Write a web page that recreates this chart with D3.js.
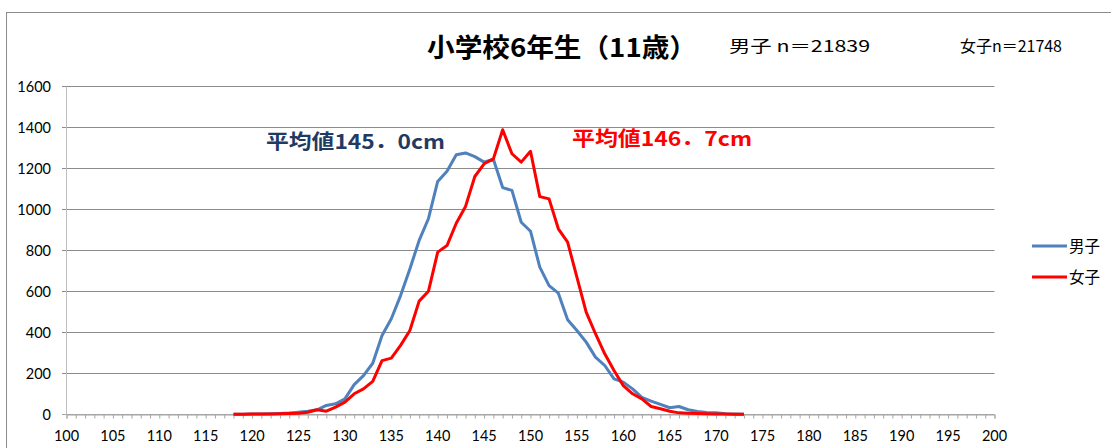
<!DOCTYPE html>
<html>
<head>
<meta charset="utf-8">
<script src="https://cdn.jsdelivr.net/npm/d3@7"></script>
<style>
  body { margin: 0; background: #fff; }
  svg { display: block; }
</style>
</head>
<body>
<div id="chart"></div>
<script>
// heights in cm (one category per cm)
const heights = d3.range(118, 174);
const boys = [1, 1, 2, 3, 4, 5, 7, 11, 16, 23, 44, 52, 76, 146, 190, 250, 385, 467, 580, 710,
  849, 955, 1137, 1187, 1267, 1276, 1258, 1231, 1245, 1107, 1093, 938, 894, 719, 629, 592,
  462, 410, 353, 280, 239, 174, 158, 125, 84, 65, 49, 33, 39, 23, 15, 10, 8, 4, 2, 1];
const girls = [1, 1, 2, 2, 3, 4, 5, 6, 11, 23, 16, 36, 60, 101, 125, 162, 263, 275, 337, 410,
  553, 601, 792, 824, 933, 1015, 1161, 1223, 1247, 1389, 1272, 1231, 1284, 1063, 1052, 906,
  841, 670, 499, 394, 296, 215, 141, 101, 76, 39, 28, 16, 8, 6, 5, 4, 3, 2, 1, 1];
const xTicks = d3.range(100, 201, 5);
const yTicks = [0, 200, 400, 600, 800, 1000, 1200, 1400, 1600];
const seriesNames = ["男子", "女子"];
const seriesColors = ["#4f81bd", "#ff0000"];

const W = 1111, H = 448;
const svg = d3.select("#chart").append("svg")
    .attr("width", W)
    .attr("height", H);

// outer chart border
svg.append("rect")
    .attr("x", 6.5).attr("y", 12.5)
    .attr("width", W + 10).attr("height", H + 10)
    .attr("fill", "none")
    .attr("stroke", "#8c8c8c");

const x = d3.scaleLinear().domain([100, 200]).range([66.5, 994.5]);
const y = d3.scaleLinear().domain([0, 1600]).range([414.5, 86.5]);

// gridlines
svg.append("g")
    .selectAll("line")
    .data(yTicks)
    .enter()
    .append("line")
    .attr("x1", 62).attr("x2", x(200))
    .attr("y1", d => y(d)).attr("y2", d => y(d))
    .attr("stroke", d => d === 0 ? "#a6a6a6" : "#8c8c8c")
    .attr("stroke-width", 1);

// y labels
svg.append("g")
    .selectAll("text")
    .data(yTicks)
    .enter()
    .append("text")
    .attr("x", 51)
    .attr("y", d => y(d) + 5)
    .attr("text-anchor", "end")
    .attr("font-family", "Lato, 'Open Sans', sans-serif")
    .attr("font-size", 14.5)
    .attr("fill", "#000")
    .text(d => d);

// left axis line
svg.append("line")
    .attr("x1", x(100)).attr("x2", x(100))
    .attr("y1", y(1600)).attr("y2", y(0))
    .attr("stroke", "#bfbfbf");

// x axis: minor tick per cm, labels every 5
const xAxis = d3.axisBottom(x)
    .tickValues(d3.range(100, 201))
    .tickSize(4)
    .tickFormat("");
const gx = svg.append("g")
    .attr("transform", "translate(0," + y(0) + ")")
    .call(xAxis);
gx.select(".domain").attr("stroke", "#a6a6a6");
gx.selectAll(".tick line").attr("stroke", "#a6a6a6");

svg.append("g")
    .selectAll("text")
    .data(xTicks)
    .enter()
    .append("text")
    .attr("x", d => x(d))
    .attr("y", 441)
    .attr("text-anchor", "middle")
    .attr("font-family", "Lato, 'Open Sans', sans-serif")
    .attr("font-size", 14.5)
    .attr("fill", "#000")
    .text(d => d);

// lines
const line = d3.line()
    .x(d => x(d[0]))
    .y(d => y(d[1]));

[boys, girls].forEach((vals, i) => {
    svg.append("path")
        .datum(heights.map((h, j) => [h, vals[j]]))
        .attr("d", line)
        .attr("fill", "none")
        .attr("stroke", seriesColors[i])
        .attr("stroke-width", 3)
        .attr("stroke-linejoin", "round");
});

// title
svg.append("text")
    .attr("x", 427)
    .attr("y", 57)
    .attr("font-family", "'Noto Sans CJK JP', sans-serif")
    .attr("font-weight", "bold")
    .attr("font-size", 26)
    .attr("textLength", 270)
    .attr("lengthAdjust", "spacingAndGlyphs")
    .text("小学校6年生（11歳）");

svg.append("text")
    .attr("x", 729)
    .attr("y", 52)
    .attr("font-family", "'Noto Sans CJK JP', sans-serif")
    .attr("font-size", 16)
    .attr("textLength", 141)
    .attr("lengthAdjust", "spacingAndGlyphs")
    .text("男子 n＝21839");

svg.append("text")
    .attr("x", 960)
    .attr("y", 52)
    .attr("font-family", "'Noto Sans CJK JP', sans-serif")
    .attr("font-size", 16)
    .attr("textLength", 102)
    .attr("lengthAdjust", "spacingAndGlyphs")
    .text("女子n＝21748");

// mean annotations
svg.append("text")
    .attr("x", 266)
    .attr("y", 149)
    .attr("font-family", "'Noto Sans CJK JP', sans-serif")
    .attr("font-weight", "bold")
    .attr("font-size", 20)
    .attr("fill", "#1f3b64")
    .attr("textLength", 179)
    .attr("lengthAdjust", "spacingAndGlyphs")
    .text("平均値145．0cm");

svg.append("text")
    .attr("x", 572)
    .attr("y", 146)
    .attr("font-family", "'Noto Sans CJK JP', sans-serif")
    .attr("font-weight", "bold")
    .attr("font-size", 20)
    .attr("fill", "#ff0000")
    .attr("textLength", 180)
    .attr("lengthAdjust", "spacingAndGlyphs")
    .text("平均値146．7cm");

// legend
const legend = svg.append("g");
seriesNames.forEach((name, i) => {
    const ly = 246 + i * 31;
    legend.append("line")
        .attr("x1", 1032).attr("x2", 1067)
        .attr("y1", ly).attr("y2", ly)
        .attr("stroke", seriesColors[i])
        .attr("stroke-width", 3);
    legend.append("text")
        .attr("x", 1069)
        .attr("y", ly + 6)
        .attr("font-family", "'Noto Sans CJK JP', sans-serif")
        .attr("font-size", 15.5)
        .attr("fill", "#000")
        .text(name);
});
</script>
</body>
</html>
